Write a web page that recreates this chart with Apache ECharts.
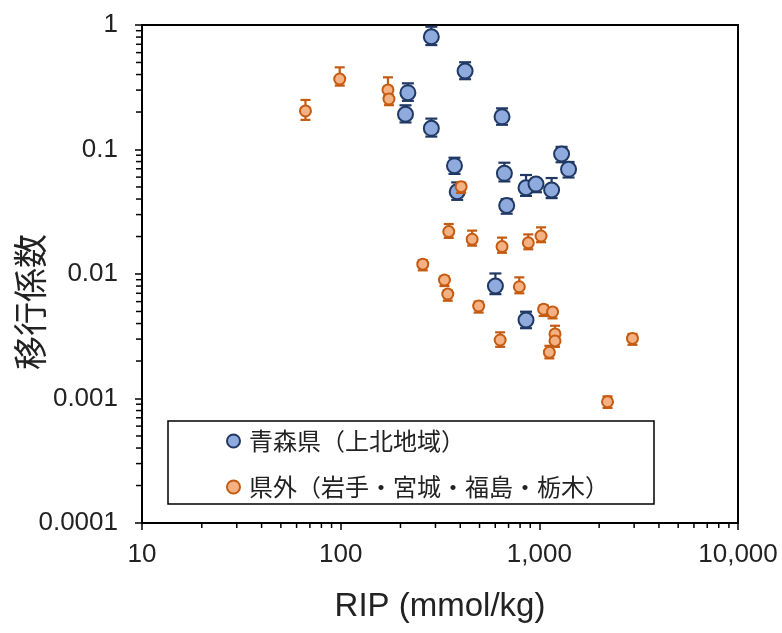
<!DOCTYPE html>
<html><head><meta charset="utf-8">
<script src="https://cdn.jsdelivr.net/npm/echarts@6/dist/echarts.min.js"></script>
<style>html,body{margin:0;padding:0;background:#fff}#c{width:782px;height:633px}</style>
</head><body><div id="c"></div>
<script>
// ---- data ----
const seriesNames = ['青森県（上北地域）', '県外（岩手・宮城・福島・栃木）'];

const aomoriRIP = [286, 423, 218, 212, 286, 649, 374, 386, 1294, 1403, 667, 857, 962, 1153, 685, 601, 857];
const aomoriTF  = [0.805, 0.427, 0.286, 0.192, 0.148, 0.183, 0.0741, 0.0458, 0.092, 0.0693, 0.0644, 0.0493, 0.0528, 0.0473, 0.0355, 0.00801, 0.00427];
const aomoriHi  = [0.969, 0.502, 0.340, 0.2265, 0.177, 0.214, 0.0859, 0.0544, 0.105, 0.0794, 0.0783, 0.0624, 0.058, 0.059, 0.040, 0.0101, 0.00498];
const aomoriLo  = [0.69, 0.367, 0.246, 0.165, 0.127, 0.158, 0.0637, 0.0394, 0.079, 0.0596, 0.0554, 0.0424, 0.0454, 0.0407, 0.0305, 0.00689, 0.00367];

const otherRIP = [66.5, 98.9, 173, 175, 404, 350, 459, 649, 880, 1020, 259, 333, 346, 793, 495, 1051, 1166, 635, 1199, 1199, 1123, 2943, 2204];
const otherTF  = [0.204, 0.368, 0.301, 0.2545, 0.0503, 0.0219, 0.0190, 0.0166, 0.0178, 0.0202, 0.0120, 0.00895, 0.0069, 0.0079, 0.00553, 0.00521, 0.00495, 0.00295, 0.0033, 0.0029, 0.00235, 0.00304, 0.000942];
const otherHi  = [0.250, 0.457, 0.380, 0.274, 0.054, 0.0252, 0.0223, 0.0196, 0.0208, 0.0237, 0.0129, 0.0096, 0.0074, 0.0094, 0.0060, 0.0056, 0.0053, 0.0034, 0.00384, 0.0031, 0.00265, 0.0033, 0.00104];
const otherLo  = [0.173, 0.326, 0.268, 0.227, 0.0448, 0.0195, 0.0169, 0.0148, 0.0158, 0.0180, 0.0107, 0.0080, 0.0061, 0.0070, 0.0049, 0.0046, 0.0044, 0.0026, 0.0029, 0.0026, 0.0021, 0.0027, 0.00084];

const xTickValues = [10, 100, 1000, 10000];
const xTickLabels = ['10', '100', '1,000', '10,000'];
const yTickValues = [0.0001, 0.001, 0.01, 0.1, 1];
const yTickLabels = ['0.0001', '0.001', '0.01', '0.1', '1'];

const xTitle = 'RIP (mmol/kg)';
const yTitle = '移行係数';

// ---- chart ----
const X_MIN = 10, X_MAX = 10000, Y_MIN = 0.0001, Y_MAX = 1;
const BLUE_FILL = '#8faadc', BLUE_LINE = '#203864';
const ORG_FILL = '#f4b183', ORG_LINE = '#c55a11';
const TXT = '#222';
const LATIN = '"Liberation Sans", Arial, sans-serif';
const CJK = '"Noto Sans CJK JP", "Noto Sans", sans-serif';

function zip(xs, ys) { return xs.map((x, i) => [x, ys[i]]); }
function errData(xs, lo, hi) { return xs.map((x, i) => [x, lo[i], hi[i]]); }

function errRender(color, capW) {
  return function (params, api) {
    const x = api.value(0), lo = api.value(1), hi = api.value(2);
    const pHi = api.coord([x, hi]);
    const pLo = api.coord([x, lo]);
    const st = { stroke: color, lineWidth: 2.2 };
    return {
      type: 'group',
      children: [
        { type: 'line', shape: { x1: pHi[0], y1: pHi[1], x2: pLo[0], y2: pLo[1] }, style: st },
        { type: 'line', shape: { x1: pHi[0] - capW / 2, y1: pHi[1], x2: pHi[0] + capW / 2, y2: pHi[1] }, style: st },
        { type: 'line', shape: { x1: pLo[0] - capW / 2, y1: pLo[1], x2: pLo[0] + capW / 2, y2: pLo[1] }, style: st }
      ]
    };
  };
}

function minorTicks(params, api) {
  const children = [];
  const st = { stroke: '#000', lineWidth: 1.5 };
  for (let d = X_MIN; d < X_MAX; d *= 10) {
    for (let m = 2; m <= 9; m++) {
      const p = api.coord([d * m, Y_MIN]);
      children.push({ type: 'line', shape: { x1: p[0], y1: p[1], x2: p[0], y2: p[1] + 5 }, style: st });
    }
  }
  for (let d = Y_MIN; d < Y_MAX * 0.99; d *= 10) {
    for (let m = 2; m <= 9; m++) {
      const p = api.coord([X_MIN, d * m]);
      children.push({ type: 'line', shape: { x1: p[0] - 6, y1: p[1], x2: p[0], y2: p[1] }, style: st });
    }
  }
  return { type: 'group', children };
}

function labelFor(values, labels) {
  return function (v) {
    for (let i = 0; i < values.length; i++) {
      if (Math.abs(Math.log10(v) - Math.log10(values[i])) < 1e-6) return labels[i];
    }
    return '';
  };
}

const chart = echarts.init(document.getElementById('c'), null, { renderer: 'canvas' });
chart.setOption({
  animation: false,
  backgroundColor: '#fff',
  grid: { left: 142, top: 25, right: 44, bottom: 110, show: true, borderColor: '#000', borderWidth: 2, backgroundColor: 'transparent' },
  graphic: [
    { type: 'text', x: 30, y: 302, rotation: Math.PI / 2, z: 10,
      style: { text: yTitle, font: '34px ' + CJK, fill: TXT, align: 'center', verticalAlign: 'middle' } }
  ],
  xAxis: {
    type: 'log', logBase: 10, min: X_MIN, max: X_MAX, splitNumber: 3,
    name: xTitle, nameLocation: 'middle', nameGap: 67,
    nameTextStyle: { fontFamily: LATIN, fontSize: 33, color: TXT },
    axisLine: { show: true, lineStyle: { color: '#000', width: 2 } },
    axisTick: { show: true, inside: false, length: 7, lineStyle: { color: '#000', width: 1.5 } },
    axisLabel: { fontFamily: LATIN, fontSize: 26, color: TXT, margin: 19, formatter: labelFor(xTickValues, xTickLabels), showMinLabel: true, showMaxLabel: true },
    splitLine: { show: false }, minorTick: { show: false }
  },
  yAxis: {
    type: 'log', logBase: 10, min: Y_MIN, max: Y_MAX, splitNumber: 4,
    axisLine: { show: true, lineStyle: { color: '#000', width: 2 } },
    axisTick: { show: true, inside: false, length: 7, lineStyle: { color: '#000', width: 1.5 } },
    axisLabel: { fontFamily: LATIN, fontSize: 26, color: TXT, margin: 24, formatter: labelFor(yTickValues, yTickLabels), showMinLabel: true, showMaxLabel: true },
    splitLine: { show: false }, minorTick: { show: false }
  },
  legend: {
    orient: 'vertical', left: 168, top: 421,
    data: seriesNames,
    backgroundColor: '#fff', borderColor: '#000', borderWidth: 1.5, borderRadius: 0,
    padding: [7, 45, 4, 58], itemGap: 20, itemWidth: 13, itemHeight: 13,
    textStyle: { fontFamily: CJK, fontSize: 24, color: TXT, lineHeight: 26, padding: [0, 0, 0, 4] },
    selectedMode: false
  },
  series: [
    { type: 'custom', name: 'ticks', silent: true, clip: false, z: 1, renderItem: minorTicks, data: [[X_MIN, Y_MIN]] },
    { type: 'custom', name: 'aomoriErr', silent: true, clip: false, z: 2, renderItem: errRender(BLUE_LINE, 12), data: errData(aomoriRIP, aomoriLo, aomoriHi) },
    { type: 'scatter', name: seriesNames[0], z: 3, symbol: 'circle', symbolSize: 15,
      itemStyle: { color: BLUE_FILL, borderColor: BLUE_LINE, borderWidth: 2, opacity: 1 },
      data: zip(aomoriRIP, aomoriTF) },
    { type: 'custom', name: 'otherErr', silent: true, clip: false, z: 4, renderItem: errRender(ORG_LINE, 10), data: errData(otherRIP, otherLo, otherHi) },
    { type: 'scatter', name: seriesNames[1], z: 5, symbol: 'circle', symbolSize: 11,
      itemStyle: { color: ORG_FILL, borderColor: ORG_LINE, borderWidth: 2, opacity: 1 },
      data: zip(otherRIP, otherTF) }
  ]
});
</script>
</body></html>
